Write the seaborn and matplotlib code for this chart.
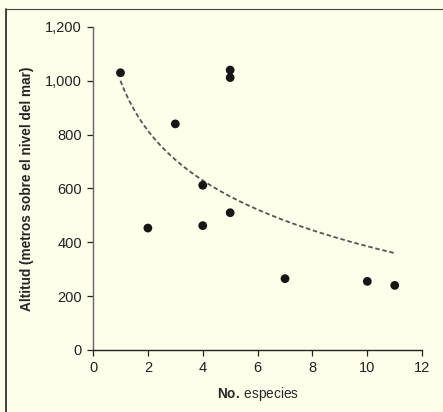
import numpy as np
import pandas as pd
import matplotlib
matplotlib.use("Agg")
import matplotlib.pyplot as plt
import matplotlib.ticker as mticker
from matplotlib.lines import Line2D
import seaborn as sns

# species count vs altitude
especies = [1, 2, 3, 4, 4, 5, 5, 5, 7, 10, 11]
altitud = [1030, 453, 840, 612, 462, 1040, 1012, 510, 265, 255, 240]

df = pd.DataFrame({"especies": especies, "altitud": altitud})

# logarithmic trend line fitted to the points
b, a = np.polyfit(np.log(df["especies"]), df["altitud"], 1)
xfit = np.linspace(1, 11, 200)
fit_df = pd.DataFrame({"x": xfit, "y": a + b * np.log(xfit)})

sns.set_style("ticks")
plt.rcParams["font.family"] = ["Liberation Sans", "DejaVu Sans"]
plt.rcParams["mathtext.fontset"] = "custom"
plt.rcParams["mathtext.rm"] = "Liberation Sans"
plt.rcParams["mathtext.bf"] = "Liberation Sans:bold"

bg = "#fefeeb"
fig = plt.figure(figsize=(4.43, 4.12), dpi=100, facecolor=bg)
ax = fig.add_axes([0.210, 0.1505, 0.743, 0.784], facecolor=bg)

sns.lineplot(data=fit_df, x="x", y="y", ax=ax, color="#555555",
             linestyle=(0, (2.5, 1.5)), linewidth=1.3)
sns.scatterplot(data=df, x="especies", y="altitud", ax=ax, color="#161616",
                s=40, edgecolor="none", zorder=3)

ax.set_xlim(0, 12)
ax.set_ylim(0, 1200)
ax.set_xticks(range(0, 13, 2))
ax.set_yticks(range(0, 1201, 200))
ax.yaxis.set_major_formatter(mticker.StrMethodFormatter("{x:,.0f}"))
ax.tick_params(axis="both", direction="out", length=4, width=0.9,
               labelsize=10.5, colors="#222222", pad=4)
ax.tick_params(axis="x", pad=4)

for side in ["top", "right"]:
    ax.spines[side].set_visible(False)
ax.spines["left"].set_color("#666666")
ax.spines["bottom"].set_color("#222222")
ax.spines["left"].set_linewidth(1.0)
ax.spines["bottom"].set_linewidth(1.0)

ax.set_xlabel(r"$\mathbf{No.}\,$especies", fontsize=9.8, labelpad=7)
ax.set_ylabel("Altitud (metros sobre el nivel del mar)", fontsize=9.8,
              fontweight="bold", labelpad=8)

# frame lines of the printed figure
fig.add_artist(Line2D([6 / 443, 6 / 443], [0, 1 - 9 / 412], transform=fig.transFigure,
                      color="#222222", linewidth=1.2))
fig.add_artist(Line2D([6 / 443, 1], [1 - 9 / 412, 1 - 9 / 412], transform=fig.transFigure,
                      color="#444444", linewidth=0.8))

fig.savefig("out.png", dpi=100, facecolor=bg)
